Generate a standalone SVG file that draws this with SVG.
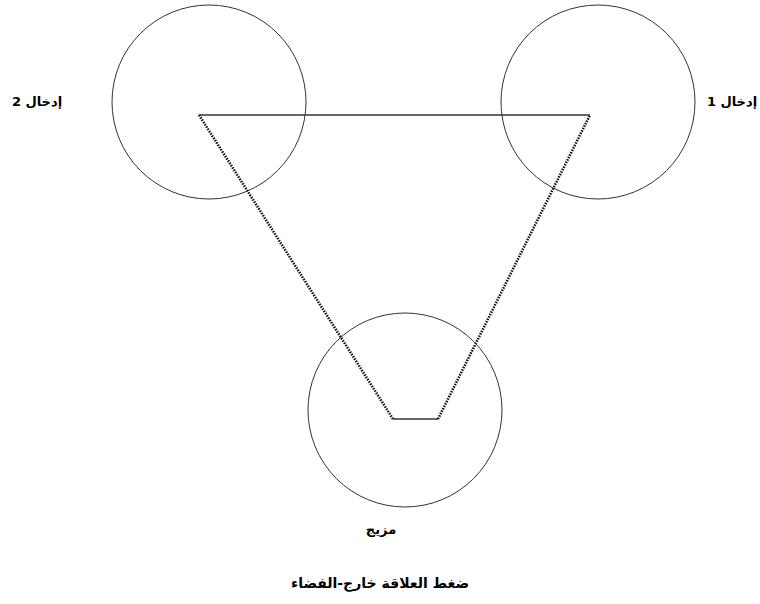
<svg xmlns="http://www.w3.org/2000/svg" width="760" height="604" viewBox="0 0 760 604">
<style>
.c{fill:none;stroke:#333;stroke-width:1}
.s{fill:none;stroke:#333;stroke-width:1.6}
.d{fill:none;stroke:#111;stroke-width:2.6;stroke-dasharray:1.5 1.2}
.t{font-family:"DejaVu Sans",sans-serif;font-weight:bold;font-size:13px;fill:#000;direction:rtl;text-anchor:middle}
</style>
<rect width="760" height="604" fill="#fff"/>
<g id="input2"><circle class="c" cx="209" cy="102" r="97"/><text class="t" x="37" y="106">إدخال 2</text></g>
<g id="input1"><circle class="c" cx="598" cy="102" r="97"/><text class="t" x="732" y="106">إدخال 1</text></g>
<g id="blend"><circle class="c" cx="405" cy="410" r="97"/><text class="t" x="381" y="534">مزيج</text></g>
<g id="connectors">
<line class="s" x1="199" y1="115" x2="590" y2="115"/>
<line class="d" x1="199" y1="115" x2="393" y2="419"/>
<line class="s" x1="393" y1="419" x2="438" y2="419"/>
<line class="d" x1="438" y1="419" x2="590" y2="115"/>
</g>
<text class="t" x="380" y="588" style="font-size:14px">ضغط العلاقة خارج-الفضاء</text>
</svg>
